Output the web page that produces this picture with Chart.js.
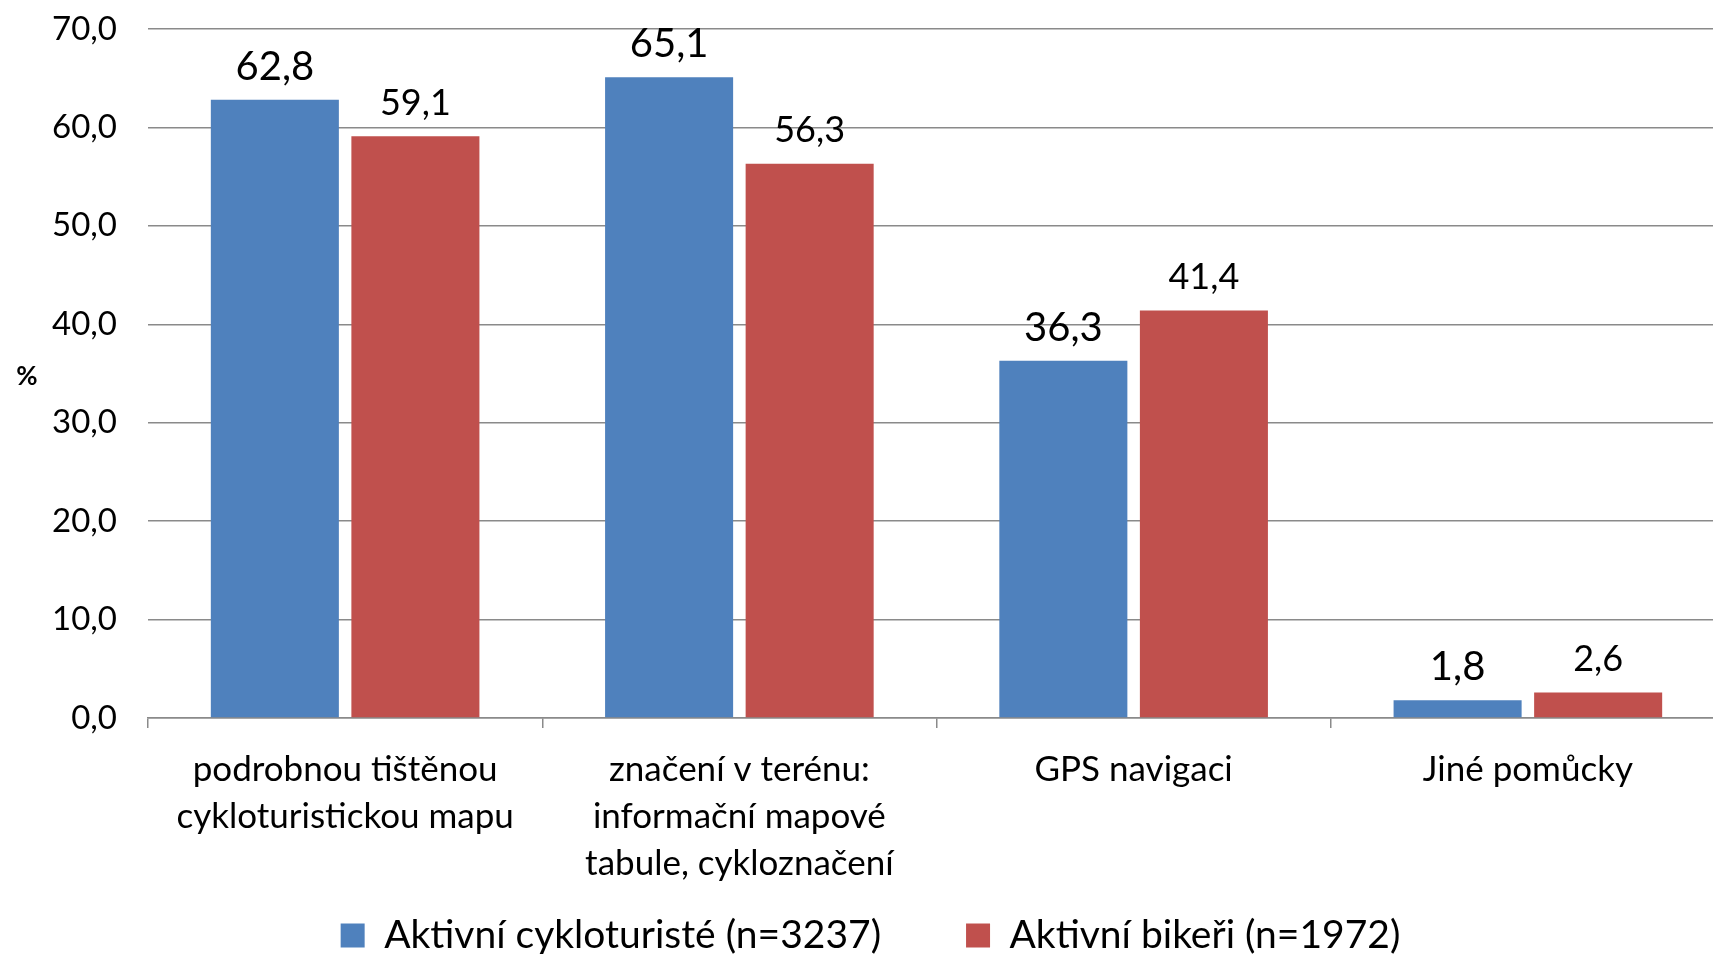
<!DOCTYPE html>
<html>
<head>
<meta charset="utf-8">
<script src="https://cdn.jsdelivr.net/npm/chart.js@4/dist/chart.umd.min.js"></script>
<style>
  html, body { margin: 0; padding: 0; background: #ffffff; }
  #wrap { width: 1713px; height: 954px; position: relative; }
</style>
</head>
<body>
<div id="wrap"><canvas id="pomuckyChart"></canvas></div>
<script>
const categories = [
  ['podrobnou tištěnou', 'cykloturistickou mapu'],
  ['značení v terénu:', 'informační mapové', 'tabule, cykloznačení'],
  'GPS navigaci',
  'Jiné pomůcky'
]
const cykloturiste = [62.8, 65.1, 36.3, 1.8]
const bikeri       = [59.1, 56.3, 41.4, 2.6]
const seriesNames  = ['Aktivní cykloturisté (n=3237)', 'Aktivní bikeři (n=1972)']
const yTicks       = [0, 10, 20, 30, 40, 50, 60, 70]

const fmt = v => v.toFixed(1).replace('.', ',')

// values above the bars + the "%" axis caption
const labelsPlugin = {
  id: 'valueLabels',
  afterLayout(chart) {
    // nudge the legend row down / right a bit
    chart.legend.top += 11
    chart.legend.bottom += 11
    chart.legend.left += 14
    chart.legend.right += 14
    // the plot runs a little past the right edge of the picture
    const x = chart.scales.x
    x.right += 12
    x.width += 12
    x.configure()
    chart.chartArea.right += 12
    chart.chartArea.width += 12
    // x labels run down into the legend band, don't clip them
    x.bottom = chart.height
  },
  afterDatasetsDraw(chart) {
    const ctx = chart.ctx
    ctx.save()
    ctx.fillStyle = '#000000'
    ctx.textAlign = 'center'
    ctx.textBaseline = 'middle'
    chart.data.datasets.forEach((ds, i) => {
      const meta = chart.getDatasetMeta(i)
      ctx.font = (i === 0 ? '40px' : '36px') + ' Lato, sans-serif'
      meta.data.forEach((bar, j) => {
        ctx.fillText(fmt(ds.data[j]), bar.x, bar.y - 33)
      })
    })
    ctx.font = 'bold 26px Lato, sans-serif'
    ctx.fillText('%', 27, 377)
    ctx.restore()
  }
}

const gridGray = '#8a8a8a'

new Chart(document.getElementById('pomuckyChart').getContext('2d'), {
  type: 'bar',
  data: {
    labels: categories,
    datasets: [
      {
        label: seriesNames[0],
        data: cykloturiste,
        backgroundColor: '#4f81bd',
        borderWidth: 0,
        categoryPercentage: 0.713,
        barPercentage: 0.911
      },
      {
        label: seriesNames[1],
        data: bikeri,
        backgroundColor: '#c0504d',
        borderWidth: 0,
        categoryPercentage: 0.713,
        barPercentage: 0.911
      }
    ]
  },
  options: {
    responsive: true,
    maintainAspectRatio: false,
    animation: false,
    layout: { padding: 0 },
    plugins: {
      title: { display: false },
      tooltip: { enabled: false },
      legend: {
        position: 'bottom',
        labels: {
          color: '#000000',
          boxWidth: 24,
          boxHeight: 24,
          padding: 85,
          font: { family: 'Lato, sans-serif', size: 39 }
        }
      }
    },
    scales: {
      x: {
        grid: {
          offset: true,
          drawOnChartArea: false,
          drawTicks: true,
          tickLength: 10,
          color: gridGray,
          lineWidth: 1.5
        },
        border: { display: true, color: gridGray, width: 1.5 },
        ticks: {
          color: '#000000',
          maxRotation: 0,
          autoSkip: false,
          padding: 18,
          font: { family: 'Lato, sans-serif', size: 35, lineHeight: '47px' }
        },
        afterFit: (scale) => { scale.height = 102 }
      },
      y: {
        min: 0,
        max: 70,
        afterBuildTicks: (scale) => { scale.ticks = yTicks.map(v => ({ value: v })) },
        grid: { drawTicks: false, color: gridGray, lineWidth: 1.5 },
        border: { display: false },
        ticks: {
          color: '#000000',
          padding: 31,
          font: { family: 'Lato, sans-serif', size: 33 },
          callback: (value) => fmt(value)
        },
        afterFit: (scale) => {
          scale.width = 148
          scale.paddingTop = 29
        }
      }
    }
  },
  plugins: [labelsPlugin]
})
</script>
</body>
</html>
